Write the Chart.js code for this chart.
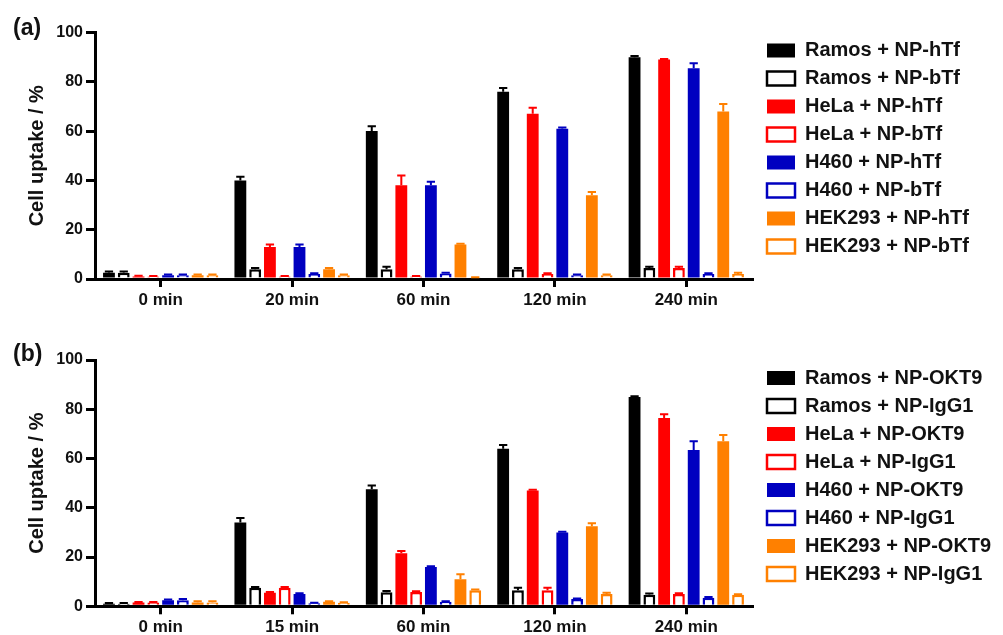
<!DOCTYPE html>
<html>
<head>
<meta charset="utf-8">
<script src="https://cdn.jsdelivr.net/npm/chart.js@4/dist/chart.umd.min.js"></script>
<style>
  body { margin: 0; background: #fff; width: 1003px; height: 635px; position: relative; overflow: hidden;
         font-family: "Liberation Sans", Arial, sans-serif; }
  .wrap { position: absolute; left: 0; width: 1003px; }
  #wa { top: 0; height: 317px; }
  #wb { top: 317px; height: 324px; }
  .tag { position: absolute; left: 13px; font-weight: bold; font-size: 23px; color: #111; }
</style>
</head>
<body>
<div class="wrap" id="wa"><canvas id="chartA"></canvas></div>
<div class="wrap" id="wb"><canvas id="chartB"></canvas></div>
<div class="tag" style="top:14px">(a)</div>
<div class="tag" style="top:340px">(b)</div>
<script>
// categories
const timesA = ['0 min', '20 min', '60 min', '120 min', '240 min'];
const timesB = ['0 min', '15 min', '60 min', '120 min', '240 min'];
const yTicks = [0, 20, 40, 60, 80, 100];

// legend names
const namesA = ['Ramos + NP-hTf', 'Ramos + NP-bTf', 'HeLa + NP-hTf', 'HeLa + NP-bTf',
                'H460 + NP-hTf', 'H460 + NP-bTf', 'HEK293 + NP-hTf', 'HEK293 + NP-bTf'];
const namesB = ['Ramos + NP-OKT9', 'Ramos + NP-IgG1', 'HeLa + NP-OKT9', 'HeLa + NP-IgG1',
                'H460 + NP-OKT9', 'H460 + NP-IgG1', 'HEK293 + NP-OKT9', 'HEK293 + NP-IgG1'];

const colors = ['#000000', '#000000', '#ff0000', '#ff0000', '#0000c0', '#0000c0', '#ff8000', '#ff8000'];
const filled = [true, false, true, false, true, false, true, false];

// panel (a) values, % uptake
const ramosHTf  = [2.5, 40, 60, 76, 90];
const ramosBTf  = [2.5, 4, 4, 4, 4.5];
const helaHTf   = [1, 13, 38, 67, 89];
const helaBTf   = [1, 1, 1, 2, 4.5];
const h460HTf   = [1.5, 13, 38, 61, 85.5];
const h460BTf   = [1.5, 2, 2.2, 1.5, 2];
const hekHTf    = [1.5, 4, 14, 34, 68];
const hekBTf    = [1.5, 1.5, 0.5, 1.5, 2];
// panel (a) error bars
const ramosHTfErr = [0.5, 1.5, 2, 1.5, 0.5];
const ramosBTfErr = [0.5, 0.5, 1, 0.5, 0.5];
const helaHTfErr  = [0.3, 1, 4, 2.5, 0.3];
const helaBTfErr  = [0.2, 0.2, 0.2, 0.3, 0.5];
const h460HTfErr  = [0.3, 1, 1.5, 0.5, 2];
const h460BTfErr  = [0.3, 0.3, 0.3, 0.3, 0.3];
const hekHTfErr   = [0.3, 0.5, 0.3, 1.3, 3];
const hekBTfErr   = [0.3, 0.3, 0.2, 0.3, 0.5];

// panel (b) values
const ramosOKT = [1, 34, 47.5, 64, 85];
const ramosIgG = [1, 7.5, 5.7, 6.5, 4.7];
const helaOKT  = [1.5, 5.5, 21.5, 47, 76.5];
const helaIgG  = [1.5, 7.5, 5.8, 6.5, 5];
const h460OKT  = [2.5, 5, 16, 30, 63.5];
const h460IgG  = [2.5, 1.2, 1.8, 3, 3.5];
const hekOKT   = [1.5, 1.8, 11, 32.5, 67];
const hekIgG   = [1.5, 1.4, 6.5, 5, 4.7];
// panel (b) error bars
const ramosOKTErr = [0.3, 1.8, 1.5, 1.5, 0.3];
const ramosIgGErr = [0.3, 0.3, 0.5, 1, 0.5];
const helaOKTErr  = [0.2, 0.3, 1, 0.3, 1.5];
const helaIgGErr  = [0.2, 0.3, 0.3, 1, 0.3];
const h460OKTErr  = [0.3, 0.3, 0.3, 0.3, 3.5];
const h460IgGErr  = [0.5, 0.2, 0.3, 0.2, 0.3];
const hekOKTErr   = [0.5, 0.2, 2, 1.2, 2.5];
const hekIgGErr   = [0.5, 0.2, 0.3, 0.5, 0.2];

const seriesA = [ramosHTf, ramosBTf, helaHTf, helaBTf, h460HTf, h460BTf, hekHTf, hekBTf];
const errorsA = [ramosHTfErr, ramosBTfErr, helaHTfErr, helaBTfErr, h460HTfErr, h460BTfErr, hekHTfErr, hekBTfErr];
const seriesB = [ramosOKT, ramosIgG, helaOKT, helaIgG, h460OKT, h460IgG, hekOKT, hekIgG];
const errorsB = [ramosOKTErr, ramosIgGErr, helaOKTErr, helaIgGErr, h460OKTErr, h460IgGErr, hekOKTErr, hekIgGErr];

Chart.defaults.font.family = '"Liberation Sans", Arial, sans-serif';
Chart.defaults.color = '#111';

// upper error bars with a small cap
const errorBars = {
    id: 'errorBars',
    afterDatasetsDraw(chart) {
        const ctx = chart.ctx;
        const y = chart.scales.y;
        chart.data.datasets.forEach((ds, i) => {
            chart.getDatasetMeta(i).data.forEach((bar, j) => {
                const top = y.getPixelForValue(ds.data[j] + ds.errors[j]);
                const half = bar.width * 0.35;
                ctx.save();
                ctx.strokeStyle = ds.borderColor;
                ctx.lineWidth = 2;
                ctx.beginPath();
                ctx.moveTo(bar.x, bar.y);
                ctx.lineTo(bar.x, top);
                ctx.moveTo(bar.x - half, top);
                ctx.lineTo(bar.x + half, top);
                ctx.stroke();
                ctx.restore();
            });
        });
    }
};

// small gap between plot and legend, and let the legend run to the canvas edge
const legendGap = {
    id: 'legendGap',
    afterLayout(chart) {
        chart.legend.left += 7;
        chart.legend.right = chart.width;
    }
};

function makeChart(id, labels, names, series, errors, padTop, padBottom) {
    const datasets = series.map((data, i) => ({
        label: names[i],
        data: data,
        errors: errors[i],
        backgroundColor: filled[i] ? colors[i] : '#ffffff',
        borderColor: colors[i],
        borderWidth: filled[i] ? 0 : 2.5,
        categoryPercentage: 0.9,
        barPercentage: 0.8
    }));

    return new Chart(document.getElementById(id), {
        type: 'bar',
        data: { labels: labels, datasets: datasets },
        options: {
            responsive: true,
            maintainAspectRatio: false,
            animation: false,
            layout: { padding: { top: padTop, right: 51, bottom: padBottom, left: 21 } },
            plugins: {
                tooltip: { enabled: false },
                legend: {
                    position: 'right',
                    align: 'start',
                    maxWidth: 200,
                    labels: {
                        boxWidth: 28,
                        boxHeight: 14,
                        padding: 8,
                        color: '#111',
                        font: { size: 20, weight: 'bold' }
                    }
                }
            },
            scales: {
                x: {
                    z: 1,
                    grid: { offset: false, drawOnChartArea: false, tickLength: 8, lineWidth: 3, color: '#000' },
                    border: { color: '#000', width: 3 },
                    ticks: { padding: 4, color: '#111', font: { size: 17, weight: 'bold', lineHeight: 1.1 } }
                },
                y: {
                    z: 1,
                    min: 0,
                    max: 100,
                    afterBuildTicks: s => { s.ticks = yTicks.map(v => ({ value: v })); },
                    afterFit: s => { s.width = 74; },
                    grid: { drawOnChartArea: false, tickLength: 9, lineWidth: 3, color: '#000' },
                    border: { color: '#000', width: 3 },
                    ticks: { padding: 3, color: '#111', font: { size: 16, weight: 'bold' } },
                    title: { display: true, text: 'Cell uptake / %', color: '#111', font: { size: 20, weight: 'bold' } }
                }
            }
        },
        plugins: [errorBars, legendGap]
    });
}

makeChart('chartA', timesA, namesA, seriesA, errorsA, 32.5, 3.3);
makeChart('chartB', timesB, namesB, seriesB, errorsB, 43, 0);
</script>
</body>
</html>
